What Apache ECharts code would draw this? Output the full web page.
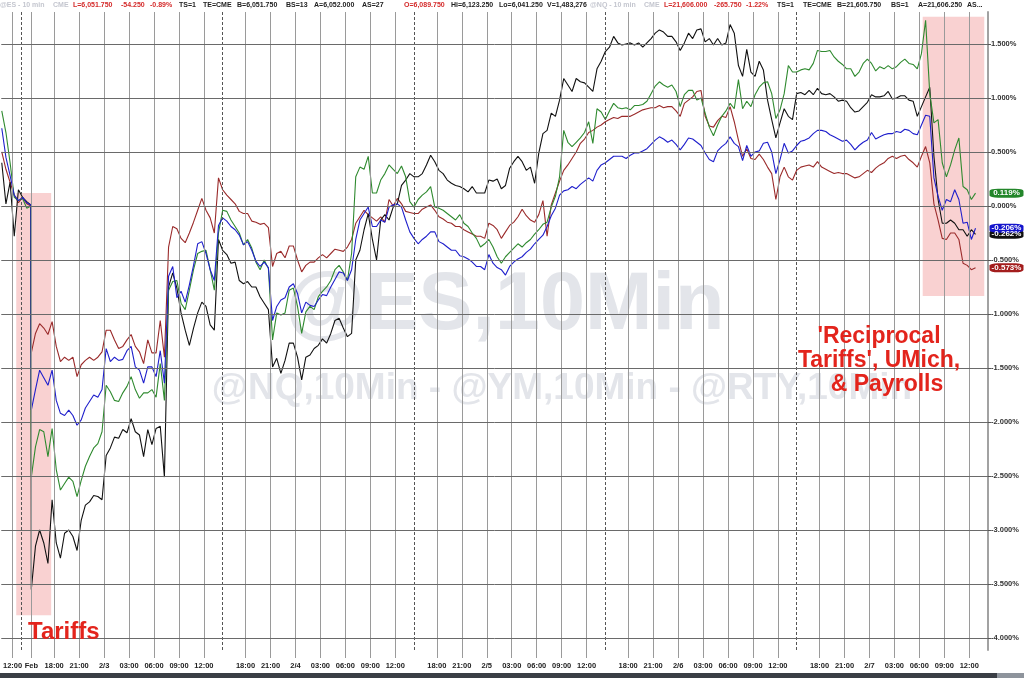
<!DOCTYPE html>
<html><head><meta charset="utf-8">
<style>html,body{margin:0;padding:0;background:#fff}#c{width:1024px;height:678px}</style>
<script src="https://cdn.jsdelivr.net/npm/echarts@6/dist/echarts.min.js"></script>
</head><body><div id="c"></div>
<script>
// ---- DATA (percent change, 30-min samples in trading hours) ----
// first 8 samples: Friday Jan 31 session, rest: week of Feb 2-7
const FRIDAY_COUNT = 8;
const nq = [ // black
  0.40, 0.02, 0.22, -0.28, 0.15, 0.08, 0.04, 0.01,
  -3.55, -3.15, -3.00, -3.12, -3.31, -2.72, -3.12, -3.26, -3.03, -3.00, -3.06, -3.19, -2.91, -2.77, -2.74, -2.68, -2.69, -2.72,
  -2.31, -2.24, -2.14, -2.15, -2.07, -2.10, -1.97, -2.09, -2.12, -2.32, -2.07, -2.21, -2.06, -2.04, -2.51,
  -0.75, -0.62, -0.76, -0.99, -1.15, -1.29, -1.13, -0.99, -0.89, -0.93, -1.10, -1.15, -0.31, -0.41, -0.45, -0.53, -0.52, -0.69,
  -0.72, -0.70, -0.75, -0.75, -0.84, -0.90, -0.96, -1.49, -1.41, -1.55, -1.43, -1.27, -1.27, -1.40, -1.61, -1.40, -1.38, -1.32,
  -1.29, -1.23, -1.27, -1.18, -1.06, -1.04, -1.13, -1.21, -1.18, -0.50, -0.41, -0.22, -0.07, -0.31, -0.50, -0.13, -0.08, -0.13,
  -0.01, 0.02, 0.19, 0.24, 0.30, 0.27, 0.27, 0.30, 0.38, 0.47, 0.41, 0.33, 0.30, 0.24, 0.21, 0.19, 0.18, 0.16, 0.13, 0.18,
  0.12, 0.12, 0.12, 0.24, 0.23, 0.25,
  0.16, 0.19, 0.35, 0.41, 0.46, 0.41, 0.33, 0.36, 0.21, 0.49, 0.67, 0.70, 0.86, 0.83, 0.98, 1.18, 1.12, 1.06, 1.18, 1.15,
  1.14, 1.10, 1.06, 1.27, 1.34, 1.43, 1.47, 1.57, 1.51, 1.49, 1.50, 1.51, 1.49, 1.51, 1.47, 1.51, 1.55, 1.60, 1.63, 1.61,
  1.57, 1.57, 1.52, 1.44, 1.51, 1.60, 1.55, 1.63, 1.64, 1.52, 1.55, 1.49, 1.55, 1.49, 1.51, 1.68, 1.60, 1.30, 1.20, 1.45,
  1.24, 1.20, 1.34, 1.26, 0.98, 0.80, 0.63, 0.77, 0.90, 0.83, 0.80, 1.04, 1.05, 1.03, 1.07, 1.03, 1.09, 1.04, 1.03, 1.04,
  1.01, 0.97, 0.98, 0.97, 0.91, 0.87, 0.88, 0.92, 0.96, 1.03, 1.01, 1.01, 1.02, 1.06, 0.99, 1.00, 1.02, 1.02, 0.98, 0.97,
  0.83, 0.92, 1.01, 1.10, 0.46, 0.06, -0.16, -0.16, -0.13, -0.16, -0.22, -0.22, -0.28, -0.22, -0.262
];
const rty = [ // green
  0.88, 0.68, 0.40, 0.08, 0.05, 0.07, -0.02, 0.00,
  -2.51, -2.23, -2.07, -2.09, -2.32, -2.06, -2.44, -2.63, -2.57, -2.51, -2.55, -2.69, -2.54, -2.41, -2.32, -2.24, -2.20, -2.09,
  -1.66, -1.72, -1.80, -1.81, -1.73, -1.67, -1.58, -1.70, -1.78, -1.73, -1.73, -1.70, -1.77, -1.46, -1.80,
  -0.78, -0.70, -0.69, -0.90, -0.96, -0.78, -0.59, -0.44, -0.42, -0.41, -0.59, -0.78, -0.25, -0.04, -0.05, -0.13, -0.19, -0.25,
  -0.36, -0.31, -0.39, -0.52, -0.59, -0.50, -0.58, -1.24, -0.99, -1.01, -0.99, -0.78, -0.76, -0.93, -1.18, -0.98, -0.93, -0.96,
  -0.84, -0.79, -0.75, -0.69, -0.59, -0.55, -0.61, -0.69, -0.44, 0.27, 0.36, 0.34, 0.46, 0.12, 0.12, 0.24, 0.30, 0.38,
  0.34, 0.30, 0.37, 0.27, 0.04, -0.01, 0.06, 0.10, 0.13, 0.18, -0.01, -0.02, -0.04, -0.07, -0.10, -0.13, -0.08, -0.16, -0.19, -0.25,
  -0.30, -0.38, -0.35, -0.31, -0.38, -0.47,
  -0.53, -0.47, -0.43, -0.39, -0.35, -0.38, -0.34, -0.31, -0.26, -0.22, -0.17, -0.15, -0.01, 0.09, 0.27, 0.70, 0.59, 0.55, 0.59, 0.63,
  0.68, 0.78, 0.58, 0.90, 0.87, 0.80, 0.88, 0.95, 0.91, 0.90, 0.91, 0.89, 0.93, 0.93, 0.94, 0.97, 1.04, 1.11, 1.15, 1.12,
  1.10, 1.12, 1.06, 0.92, 1.03, 1.07, 1.07, 0.98, 1.00, 0.86, 0.73, 0.65, 0.75, 0.83, 0.88, 0.95, 0.90, 1.17, 0.90, 0.97,
  0.92, 1.03, 1.10, 1.14, 1.15, 1.04, 0.81, 0.89, 1.04, 1.30, 1.24, 1.24, 1.26, 1.27, 1.26, 1.32, 1.44, 1.43, 1.43, 1.44,
  1.38, 1.34, 1.31, 1.27, 1.27, 1.20, 1.24, 1.32, 1.36, 1.32, 1.25, 1.29, 1.27, 1.30, 1.27, 1.29, 1.33, 1.36, 1.32, 1.31,
  1.27, 1.41, 1.72, 1.04, 0.77, 0.80, 0.40, 0.27, 0.38, 0.52, 0.63, 0.18, 0.15, 0.06, 0.119
];
const es = [ // blue
  0.72, 0.45, 0.28, 0.10, 0.05, 0.08, 0.03, 0.01,
  -1.89, -1.70, -1.52, -1.59, -1.66, -1.52, -1.80, -1.92, -1.94, -1.89, -1.94, -2.03, -1.98, -1.87, -1.81, -1.75, -1.77, -1.70,
  -1.32, -1.44, -1.40, -1.43, -1.42, -1.34, -1.30, -1.49, -1.52, -1.64, -1.49, -1.49, -1.58, -1.34, -1.64,
  -0.65, -0.56, -0.85, -0.79, -0.89, -0.73, -0.55, -0.35, -0.33, -0.44, -0.59, -0.69, -0.18, -0.11, -0.14, -0.19, -0.22, -0.27,
  -0.36, -0.33, -0.41, -0.51, -0.56, -0.52, -0.57, -1.06, -0.93, -0.87, -0.85, -0.75, -0.72, -0.81, -0.99, -0.89, -0.92, -0.93,
  -0.87, -0.82, -0.83, -0.75, -0.68, -0.61, -0.62, -0.69, -0.59, -0.31, -0.13, -0.07, -0.01, -0.19, -0.19, -0.13, -0.15, -0.01,
  0.01, 0.02, -0.01, -0.13, -0.24, -0.30, -0.35, -0.31, -0.28, -0.24, -0.24, -0.33, -0.35, -0.38, -0.41, -0.41, -0.46, -0.47, -0.49, -0.52,
  -0.56, -0.56, -0.59, -0.45, -0.53, -0.57,
  -0.59, -0.64, -0.56, -0.52, -0.49, -0.47, -0.43, -0.40, -0.35, -0.31, -0.27, -0.19, -0.09, -0.02, 0.10, 0.14, 0.15, 0.18, 0.16, 0.20,
  0.23, 0.26, 0.23, 0.33, 0.38, 0.40, 0.43, 0.46, 0.46, 0.46, 0.44, 0.47, 0.49, 0.49, 0.51, 0.53, 0.57, 0.61, 0.64, 0.62,
  0.59, 0.61, 0.57, 0.52, 0.57, 0.63, 0.62, 0.59, 0.56, 0.49, 0.43, 0.41, 0.51, 0.55, 0.58, 0.64, 0.58, 0.55, 0.42, 0.56,
  0.46, 0.50, 0.51, 0.58, 0.59, 0.50, 0.30, 0.43, 0.58, 0.49, 0.51, 0.56, 0.60, 0.61, 0.63, 0.67, 0.70, 0.70, 0.69, 0.66,
  0.64, 0.62, 0.60, 0.61, 0.57, 0.52, 0.56, 0.59, 0.61, 0.68, 0.62, 0.64, 0.66, 0.67, 0.67, 0.69, 0.68, 0.71, 0.70, 0.67,
  0.66, 0.75, 0.84, 0.83, 0.26, 0.09, -0.04, 0.06, 0.04, 0.15, 0.06, -0.16, -0.15, -0.31, -0.206
];
const ym = [ // dark red
  0.50, 0.34, 0.22, 0.10, 0.03, 0.08, 0.02, 0.00,
  -1.36, -1.18, -1.09, -1.13, -1.19, -1.07, -1.30, -1.44, -1.40, -1.43, -1.40, -1.58, -1.47, -1.43, -1.40, -1.43, -1.40, -1.35,
  -1.15, -1.15, -1.24, -1.32, -1.30, -1.24, -1.19, -1.30, -1.35, -1.46, -1.24, -1.36, -1.36, -1.06, -1.40,
  -0.38, -0.19, -0.21, -0.30, -0.34, -0.25, -0.15, -0.04, 0.07, -0.04, -0.11, -0.25, 0.26, 0.15, 0.10, 0.06, 0.02, -0.05,
  -0.07, -0.07, -0.14, -0.15, -0.17, -0.16, -0.20, -0.56, -0.44, -0.42, -0.48, -0.37, -0.37, -0.50, -0.61, -0.55, -0.52, -0.52,
  -0.48, -0.45, -0.48, -0.44, -0.40, -0.41, -0.42, -0.38, -0.31, -0.16, -0.10, -0.04, -0.08, -0.11, -0.14, -0.10, -0.15, 0.06,
  0.00, 0.07, 0.02, -0.05, -0.06, -0.07, -0.07, -0.03, -0.01, 0.01, -0.04, -0.10, -0.12, -0.15, -0.16, -0.19, -0.19, -0.22, -0.24, -0.26,
  -0.28, -0.28, -0.30, -0.16, -0.18, -0.22,
  -0.30, -0.24, -0.18, -0.15, -0.10, -0.03, -0.09, -0.13, -0.15, -0.08, 0.05, -0.28, 0.01, 0.12, 0.23, 0.33, 0.38, 0.44, 0.50, 0.58,
  0.62, 0.68, 0.70, 0.73, 0.75, 0.78, 0.80, 0.82, 0.81, 0.83, 0.83, 0.83, 0.85, 0.87, 0.89, 0.90, 0.91, 0.91, 0.93, 0.91,
  0.92, 0.92, 0.88, 0.83, 0.95, 0.98, 1.01, 1.06, 1.07, 0.83, 0.74, 0.73, 0.79, 0.83, 0.82, 0.92, 0.78, 0.61, 0.46, 0.53,
  0.44, 0.43, 0.48, 0.43, 0.36, 0.30, 0.06, 0.27, 0.36, 0.27, 0.24, 0.33, 0.36, 0.37, 0.38, 0.36, 0.41, 0.36, 0.34, 0.32,
  0.30, 0.31, 0.30, 0.30, 0.28, 0.26, 0.27, 0.30, 0.33, 0.31, 0.35, 0.38, 0.40, 0.44, 0.46, 0.44, 0.46, 0.47, 0.43, 0.40,
  0.36, 0.46, 0.55, 0.40, 0.02, -0.13, -0.30, -0.31, -0.25, -0.25, -0.31, -0.53, -0.55, -0.59, -0.573
];

// x axis: trading hours since Sunday Feb 2 "18:00" bar
const xTickLabels = ['12:00','Feb','18:00','21:00','2/3','03:00','06:00','09:00','12:00',
  '18:00','21:00','2/4','03:00','06:00','09:00','12:00',
  '18:00','21:00','2/5','03:00','06:00','09:00','12:00',
  '18:00','21:00','2/6','03:00','06:00','09:00','12:00',
  '18:00','21:00','2/7','03:00','06:00','09:00','12:00'];
const xTickHours = [-5, -2.75, 0, 3, 6, 9, 12, 15, 18,
  23, 26, 29, 32, 35, 38, 41,
  46, 49, 52, 55, 58, 61, 64,
  69, 72, 75, 78, 81, 84, 87,
  92, 95, 98, 101, 104, 107, 110];
const sessionBreakHours = [-4, 20.25, 43.25, 66.25, 89.25];
const yTickValues = [1.5, 1.0, 0.5, 0, -0.5, -1.0, -1.5, -2.0, -2.5, -3.0, -3.5, -4.0];
const shadedPeriods = [[-4.56, -0.36, 0.12, -3.79], [104.4, 111.8, 1.753, -0.833]];
const seriesNames = ['YM', 'NQ', 'RTY', 'ES'];

// ---- LAYOUT / STYLE ----
const X_MIN = -6.36, X_MAX = 112.25, Y_MIN = -4.111, Y_MAX = 1.796;
const FONT = '"Liberation Sans", Arial, sans-serif';
const colors = { YM: '#9a2a2a', NQ: '#111111', RTY: '#2f8a2f', ES: '#1f1fcc' };
const boxColors = { YM: '#a31d1d', NQ: '#111111', RTY: '#23862a', ES: '#1414cc' };
const valuesByName = { YM: ym, NQ: nq, RTY: rty, ES: es };

function hourOf(i) {
  return i < FRIDAY_COUNT ? -6.3 + 0.5 * i : -2.75 + 0.5 * (i - FRIDAY_COUNT);
}
function pairs(arr) { return arr.map((v, i) => [hourOf(i), v]); }

const chart = echarts.init(document.getElementById('c'), null, { renderer: 'canvas' });

const lineSeries = seriesNames.map(name => {
  const vals = valuesByName[name];
  const last = vals[vals.length - 1];
  return {
    name, type: 'line', z: 3, data: pairs(vals), showSymbol: false, symbol: 'none',
    lineStyle: { color: colors[name], width: 1.1 }, itemStyle: { color: colors[name] },
    emphasis: { disabled: true }, silent: true,
    markPoint: {
      silent: true, symbol: 'roundRect', symbolSize: [34, 9], symbolOffset: [18.5, 0],
      itemStyle: { color: boxColors[name] },
      label: { show: true, position: 'inside', color: '#fff', fontSize: 8, fontWeight: 'bold', fontFamily: FONT,
               formatter: () => last.toFixed(3) + '%' },
      data: [{ coord: [X_MAX, last] }]
    }
  };
});

const gridLines = [];
xTickHours.forEach(h => gridLines.push({ xAxis: h, lineStyle: { color: '#9a9a9a', width: 1, type: 'solid' } }));
sessionBreakHours.forEach(h => gridLines.push({ xAxis: h, lineStyle: { color: '#555', width: 1, type: [3, 2] } }));
yTickValues.forEach(v => gridLines.push({ yAxis: v, lineStyle: { color: '#6a6a6a', width: 1, type: 'solid' } }));

const header = [
  ['@ES - 10 min', 0, '#c4c6cf'], ['CME', 53, '#c4c6cf'], ['L=6,051.750', 73, '#d42a2a'], ['-54.250', 121, '#d42a2a'],
  ['-0.89%', 150, '#d42a2a'], ['TS=1', 179, '#222'], ['TE=CME', 203, '#222'], ['B=6,051.750', 237, '#222'],
  ['BS=13', 286, '#222'], ['A=6,052.000', 314, '#222'], ['AS=27', 362, '#222'], ['O=6,089.750', 404, '#d42a2a'],
  ['Hi=6,123.250', 451, '#222'], ['Lo=6,041.250', 499, '#222'], ['V=1,483,276', 547, '#222'],
  ['@NQ - 10 min', 590, '#c4c6cf'], ['CME', 644, '#c4c6cf'], ['L=21,606.000', 664, '#d42a2a'], ['-265.750', 714, '#d42a2a'],
  ['-1.22%', 746, '#d42a2a'], ['TS=1', 777, '#222'], ['TE=CME', 803, '#222'], ['B=21,605.750', 837, '#222'],
  ['BS=1', 891, '#222'], ['A=21,606.250', 918, '#222'], ['AS...', 967, '#222']
];

const graphics = [
  { type: 'text', x: 505, y: 307, z: 0, silent: true,
    style: { text: '@ES,10Min', fill: '#e3e5ea', font: 'bold 81px ' + FONT, textAlign: 'center', textVerticalAlign: 'middle' } },
  { type: 'text', x: 562, y: 389, z: 0, silent: true,
    style: { text: '@NQ,10Min - @YM,10Min - @RTY,10Min', fill: '#e3e5ea', font: 'bold 37px ' + FONT, textAlign: 'center', textVerticalAlign: 'middle' } },
  { type: 'text', x: 28, y: 632, z: 50, silent: true,
    style: { text: 'Tariffs', fill: '#e3241c', font: 'bold 24px ' + FONT, textAlign: 'left', textVerticalAlign: 'middle' } },
  { type: 'text', x: 879, y: 337, z: 50, silent: true,
    style: { text: "'Reciprocal", fill: '#e3241c', font: 'bold 23px ' + FONT, textAlign: 'center', textVerticalAlign: 'middle' } },
  { type: 'text', x: 879, y: 361, z: 50, silent: true,
    style: { text: "Tariffs', UMich,", fill: '#e3241c', font: 'bold 23px ' + FONT, textAlign: 'center', textVerticalAlign: 'middle' } },
  { type: 'text', x: 887, y: 385, z: 50, silent: true,
    style: { text: '& Payrolls', fill: '#e3241c', font: 'bold 23px ' + FONT, textAlign: 'center', textVerticalAlign: 'middle' } },
  { type: 'rect', shape: { x: 0, y: 673, width: 1024, height: 5 }, z: 60, silent: true, style: { fill: '#3a3e45' } },
  { type: 'rect', shape: { x: 997, y: 673, width: 27, height: 5 }, z: 61, silent: true, style: { fill: '#8e949c' } }
];
header.forEach(([t, x, c]) => graphics.push({
  type: 'text', x, y: 5, z: 60, silent: true,
  style: { text: t, fill: c, font: 'bold 7px ' + FONT, textAlign: 'left', textVerticalAlign: 'middle' }
}));

chart.setOption({
  animation: false,
  backgroundColor: '#ffffff',
  grid: { left: 0, right: 36, top: 12, bottom: 28, containLabel: false },
  xAxis: {
    type: 'value', min: X_MIN, max: X_MAX,
    splitLine: { show: false }, axisLine: { show: false, onZero: false },
    axisTick: { show: true, customValues: xTickHours, length: 8, lineStyle: { color: '#9a9a9a' } },
    axisLabel: { customValues: xTickHours, hideOverlap: false, fontSize: 7.5, fontWeight: 'bold', color: '#222', fontFamily: FONT, margin: 12,
      formatter: v => xTickLabels[xTickHours.indexOf(v)] }
  },
  yAxis: {
    type: 'value', position: 'right', min: Y_MIN, max: Y_MAX,
    splitLine: { show: false },
    axisLine: { show: true, onZero: false, lineStyle: { color: '#a2a2a2', width: 2 } },
    axisTick: { show: true, customValues: yTickValues, length: 3, lineStyle: { color: '#555' } },
    axisLabel: { customValues: yTickValues, hideOverlap: false, fontSize: 7.5, fontWeight: 'bold', color: '#333', fontFamily: FONT, margin: 3,
      formatter: v => v.toFixed(3) + '%' }
  },
  graphic: { elements: graphics },
  series: [
    { type: 'line', z: 1, data: [], silent: true,
      markArea: { silent: true, itemStyle: { color: 'rgba(238,120,120,0.34)' },
        data: shadedPeriods.map(p => [{ coord: [p[0], p[2]] }, { coord: [p[1], p[3]] }]) } },
    { type: 'line', z: 2, data: [], silent: true,
      markLine: { silent: true, symbol: ['none', 'none'], label: { show: false }, animation: false, data: gridLines } },
    ...lineSeries
  ]
});
</script>
</body></html>
